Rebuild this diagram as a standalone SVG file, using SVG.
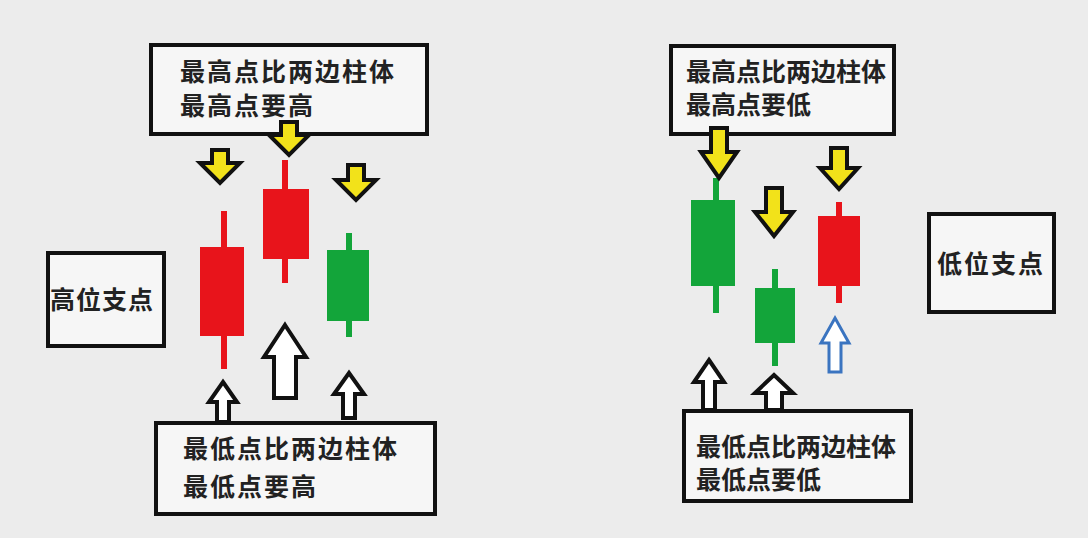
<svg xmlns="http://www.w3.org/2000/svg" width="1088" height="538" viewBox="0 0 1088 538">
<style>
.box{fill:#f6f6f6;stroke:#111;stroke-width:4}
.t{font-family:"Noto Sans CJK SC","Noto Sans",sans-serif;font-size:25px;font-weight:bold;fill:#222;letter-spacing:2px}
.dn{fill:#f2e21a;stroke:#111;stroke-width:4;stroke-linejoin:miter}
.up{fill:#fff;stroke:#111;stroke-width:4}
.red{fill:#e8141b}
.grn{fill:#13a53a}
</style>
<rect width="1088" height="538" fill="#ececec"/>
<g id="left-top"><rect class="box" x="151" y="45" width="276" height="89"/><text class="t" x="180" y="81">最高点比两边柱体</text><text class="t" x="180" y="115">最高点要高</text></g>
<g id="left-label"><rect class="box" x="48" y="253" width="116" height="93"/><text class="t" x="50" y="309" style="letter-spacing:1px">高位支点</text></g>
<g id="left-bottom"><rect class="box" x="156" y="423" width="279" height="91"/><text class="t" x="183" y="458">最低点比两边柱体</text><text class="t" x="183" y="496">最低点要高</text></g>
<g id="right-top"><rect class="box" x="671" y="46" width="223" height="88"/><text class="t" x="686" y="81" style="letter-spacing:0">最高点比两边柱体</text><text class="t" x="686" y="114" style="letter-spacing:0">最高点要低</text></g>
<g id="right-label"><rect class="box" x="929" y="214" width="125" height="98"/><text class="t" x="937" y="273">低位支点</text></g>
<g id="right-bottom"><rect class="box" x="684" y="411" width="227" height="90"/><text class="t" x="696" y="456" style="letter-spacing:0">最低点比两边柱体</text><text class="t" x="696" y="489" style="letter-spacing:0">最低点要低</text></g>
<g id="candles">
<rect class="red" x="221" y="211" width="6" height="158"/><rect class="red" x="200" y="247" width="44" height="89"/>
<rect class="red" x="282" y="160" width="6" height="123"/><rect class="red" x="263" y="189" width="46" height="70"/>
<rect class="grn" x="346" y="233" width="6" height="104"/><rect class="grn" x="327" y="250" width="42" height="71"/>
<rect class="grn" x="713" y="178" width="6" height="135"/><rect class="grn" x="691" y="200" width="44" height="86"/>
<rect class="grn" x="772" y="269" width="6" height="97"/><rect class="grn" x="755" y="288" width="40" height="55"/>
<rect class="red" x="836" y="202" width="6" height="101"/><rect class="red" x="818" y="216" width="42" height="70"/>
</g>
<g id="connectors">
<polygon class="dn" points="212,150 228,150 228,163 240,163 220,183 200,163 212,163"/>
<polygon class="dn" points="281,122 297,122 297,135 309,135 289,155 269,135 281,135"/>
<polygon class="dn" points="348,165 364,165 364,180 376,180 356,200 336,180 348,180"/>
<polygon class="up" points="285,325 306,357 296,357 296,398 274,398 274,357 264,357"/>
<polygon class="up" points="223,382 237,402 229,402 229,422 217,422 217,402 209,402"/>
<polygon class="up" points="349,373 364,394 355,394 355,418 343,418 343,394 334,394"/>
<polygon class="dn" points="711,128 727,128 727,152 737,152 719,178 701,152 711,152"/>
<polygon class="dn" points="766,188 782,188 782,212 793,212 774,236 755,212 766,212"/>
<polygon class="dn" points="831,148 847,148 847,168 858,168 839,189 820,168 831,168"/>
<polygon class="up" points="709,360 724,382 715,382 715,410 703,410 703,382 694,382"/>
<polygon class="up" points="774,375 793,393 782,393 782,410 766,410 766,393 755,393"/>
<polygon class="up" style="stroke:#3a74c0;stroke-width:3" points="835,318 849,343 841,343 841,372 829,372 829,343 821,343"/>
</g>
</svg>
